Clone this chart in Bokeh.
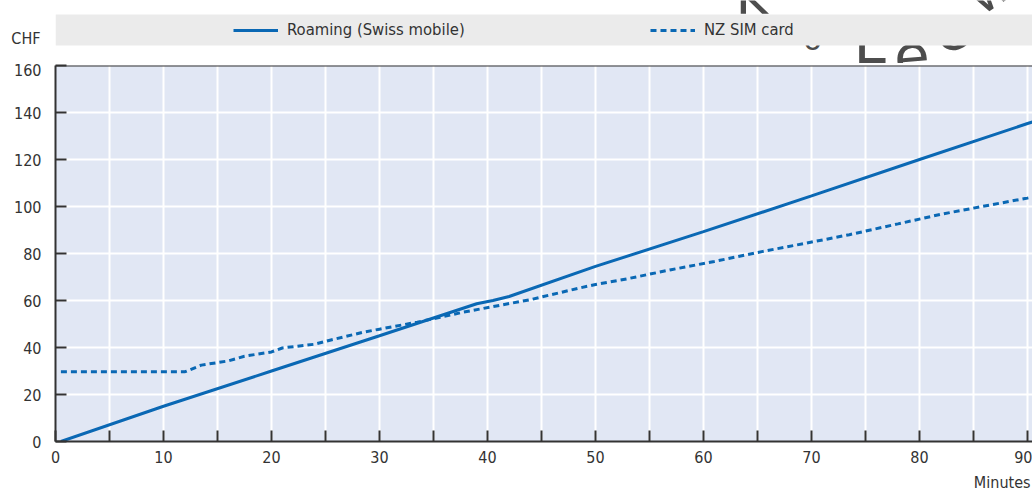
from bokeh.plotting import figure
from bokeh.layouts import column
from bokeh.models import (Range1d, FixedTicker, Legend, LegendItem, Span, Title,
                          LinearAxis)
from bokeh.core.properties import value
from bokeh.embed import file_html
from bokeh.resources import INLINE

# ---- data ----
roaming_min = [0.5, 10, 20, 30, 39, 40.5, 42, 50, 60, 70, 80, 90, 91]
roaming_chf = [0, 15, 30, 45, 58.6, 60, 61.7, 74.5, 89.3, 104.5, 120, 135.3, 136.8]

sim_min = [0.5, 12, 13.5, 16, 17.5, 20, 21, 24, 25.5, 28.5, 30, 33.5, 35.5, 37.5,
           40.5, 44, 48.5, 50, 53, 57, 61, 65.5, 69.5, 73.5, 78, 82, 85, 90, 91]
sim_chf = [29.7, 29.7, 32.5, 34.3, 36.3, 38.1, 39.8, 41.4, 43.2, 46.5, 47.8, 50.8,
           52.7, 54.8, 57.4, 60.4, 65.3, 66.8, 69.3, 73.1, 76.6, 80.9, 84.4, 88,
           92.6, 96.7, 99.3, 103.6, 104.5]

x_major = [0, 10, 20, 30, 40, 50, 60, 70, 80, 90]
x_minor = [5, 15, 25, 35, 45, 55, 65, 75, 85]
y_ticks = [0, 20, 40, 60, 80, 100, 120, 140, 160]

series_names = ["Roaming (Swiss mobile)", "NZ SIM card"]
y_unit = "CHF"
x_unit = "Minutes"
stamp_letters = ["k", "o", "L", "e", "c", "w"]

FONT = "'DejaVu Sans Condensed', 'Liberation Sans', sans-serif"
FS = "16px"
TXT = "#333333"
BLUE = "#0a68b4"

W = 1032
LEFT = 55

# ---------- top strip (its frame is aligned with the chart frame: x 55..1032) ----------
top = figure(width=W, height=63, output_backend="svg", toolbar_location=None,
             x_range=Range1d(LEFT, W), y_range=Range1d(63, 0),
             x_axis_location=None, y_axis_location=None,
             min_border_left=LEFT, min_border_right=0,
             min_border_top=0, min_border_bottom=0)
top.grid.visible = False
top.outline_line_color = None
top.background_fill_color = "white"
top.border_fill_color = "white"

# unit label of the value axis, as a one-tick axis in the left border
unit_axis = LinearAxis(ticker=FixedTicker(ticks=[38]),
                       major_label_overrides={38: y_unit},
                       axis_line_color=None, major_tick_line_color=None,
                       minor_tick_line_color=None, major_tick_in=0,
                       major_tick_out=0, major_label_standoff=15,
                       major_label_text_font=FONT, major_label_text_font_size=FS,
                       major_label_text_color=TXT)
top.add_layout(unit_axis, "left")

# decorative stamp letters (drawn first, partly hidden by the band)
top.text(x=[735, 803, 853, 895, 944, 988], y=[27, 56, 76, 77, 67, 26],
         text=stamp_letters, angle=[0, 0, 0, 0.08, 0.3, 0.6],
         text_font=value("DejaVu Sans"),
         text_font_size=["58px", "30px", "58px", "58px", "58px", "50px"],
         text_color="#4d4d4d", text_baseline="bottom", text_align="left")

top.quad(left=[LEFT], right=[W], top=[14], bottom=[45], fill_color="#ebebeb",
         line_color=None)

# legend glyph carriers (kept outside the visible range)
d1 = top.line(x=[0, 1], y=[0, 0], line_color=BLUE, line_width=3)
d2 = top.line(x=[0, 1], y=[0, 0], line_color=BLUE, line_width=3, line_dash="6 4")
legend = Legend(items=[LegendItem(label=series_names[0], renderers=[d1]),
                       LegendItem(label=series_names[1], renderers=[d2])],
                location=(233 - LEFT, 23.5), orientation="horizontal",
                glyph_width=45, glyph_height=20, label_standoff=9,
                label_width=363, label_height=20, spacing=0, padding=0, margin=0,
                background_fill_alpha=0, border_line_color=None,
                label_text_font=FONT, label_text_font_size="16.5px",
                label_text_color=TXT, label_text_baseline="middle")
top.add_layout(legend, "center")

# ---------- main chart ----------
p = figure(width=W, height=433, output_backend="svg", toolbar_location=None,
           x_range=Range1d(0, 90.46), y_range=Range1d(0, 160),
           min_border_left=LEFT, min_border_right=0, min_border_top=2,
           min_border_bottom=53)
p.background_fill_color = "#e1e7f4"
p.border_fill_color = "white"
p.outline_line_color = None

p.xaxis.ticker = FixedTicker(ticks=x_major, minor_ticks=x_minor)
p.yaxis.ticker = FixedTicker(ticks=y_ticks, minor_ticks=[])
for ax in (p.xaxis, p.yaxis):
    ax.axis_line_color = TXT
    ax.axis_line_width = 2
    ax.major_tick_line_color = TXT
    ax.major_tick_line_width = 2
    ax.major_tick_in = 11
    ax.major_tick_out = 0
    ax.major_label_text_font = FONT
    ax.major_label_text_font_size = FS
    ax.major_label_text_color = TXT
p.xaxis.minor_tick_line_color = TXT
p.xaxis.minor_tick_line_width = 2
p.xaxis.minor_tick_in = 11
p.xaxis.minor_tick_out = 0
p.yaxis.minor_tick_line_color = None
p.xaxis.major_label_standoff = 9
p.yaxis.major_label_standoff = 14

p.xgrid.ticker = FixedTicker(ticks=x_major, minor_ticks=x_minor)
p.xgrid.grid_line_color = "white"
p.xgrid.grid_line_width = 2
p.xgrid.minor_grid_line_color = "white"
p.xgrid.minor_grid_line_width = 2
p.ygrid.grid_line_color = "white"
p.ygrid.grid_line_width = 2

p.add_layout(Span(location=160, dimension="width", line_color=TXT, line_width=2))

p.line(roaming_min, roaming_chf, line_color=BLUE, line_width=3)
p.line(sim_min, sim_chf, line_color=BLUE, line_width=3, line_dash="6 4")

p.add_layout(Title(text=x_unit, align="right", text_font=FONT, text_font_size=FS,
                   text_font_style="normal", text_color=TXT, standoff=10,
                   offset=2), "below")

layout = column(top, p, spacing=0)
open("out.html", "w").write(file_html(layout, INLINE))
